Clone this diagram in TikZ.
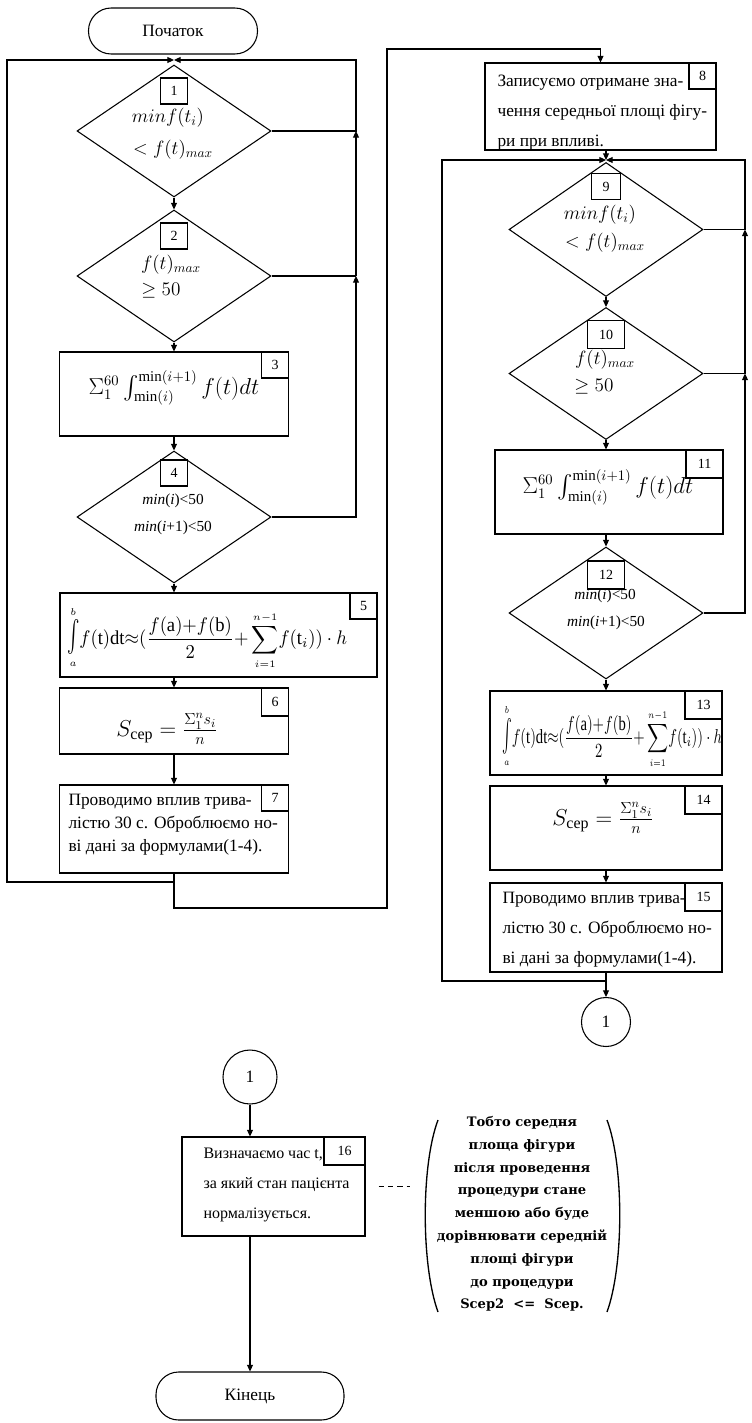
\documentclass[tikz,border=0pt]{standalone}
\usepackage{amsmath}
\usepackage{fontspec}
\setmainfont{Liberation Serif}
\newfontfamily\notefont{DejaVu Serif}
\usepackage{graphicx}
\usetikzlibrary{shapes.geometric,arrows.meta}

\newcommand{\trapform}{$\displaystyle\mathop{\scalebox{1}[1.6]{$\textstyle\int$}}\limits_{\scriptscriptstyle a}^{\scriptscriptstyle b}\!f(\mathrm{t})\mathrm{dt}{\approx}(\frac{f(\mathrm{a}){+}f(\mathrm{b})}{2}{+}\sum_{\scriptscriptstyle i=1}^{\scriptscriptstyle n-1}\!f(\mathrm{t}_i))\cdot h$}
\newcommand{\areaform}{$S_{\mbox{\normalfont\fontsize{12}{13}\selectfont сер}}=\frac{\Sigma_1^n s_i}{n}$}
\newcommand{\intform}{$\Sigma_1^{60}\int_{\min(i)}^{\min(i+1)}f(t)dt$}

\begin{document}
\begin{tikzpicture}[x=0.75pt,y=-0.75pt,line width=0.8pt,
    >={Triangle[length=5pt,width=4.5pt]},
    box/.style={draw,rectangle,inner sep=0pt,minimum width=171.75pt,minimum height=63pt},
    decide/.style={draw,diamond,inner sep=0pt,minimum width=145.5pt,minimum height=99pt},
    numbox/.style={draw,rectangle,inner sep=0pt,minimum width=20.25pt,minimum height=19.5pt,font=\fontsize{10.5}{12}\selectfont},
    numwide/.style={numbox,minimum width=27.75pt,minimum height=21pt},
    term/.style={draw,rectangle,rounded corners=17pt,inner sep=0pt,minimum height=34.5pt,font=\fontsize{13}{15}\selectfont},
    conn/.style={draw,circle,inner sep=0pt,font=\fontsize{13}{15}\selectfont},
    txt/.style={align=left,inner sep=0pt,anchor=west},
    cond/.style={inner sep=0pt,font=\fontsize{14}{16}\selectfont},
    condsmall/.style={inner sep=0pt,font=\fontsize{11.5}{13}\selectfont},
    formula/.style={inner sep=0pt,font=\fontsize{16}{18}\selectfont}]
\useasboundingbox (0,0) rectangle (752,1423);

% Colonna sinistra
\node[term,minimum width=126.75pt] (start) at (173,31) {Початок};
\coordinate (j1) at (174,60);
\node[decide] (d1) at (174,131) {};
\node[decide] (d2) at (174,276) {};
\node[box] (b3) at (174,394) {};
\node[decide] (d4) at (174,517) {};
\node[box,minimum width=237.75pt] (b5) at (218.5,635) {};
\node[box,minimum height=49.5pt] (b6) at (174,721) {};
\node[box,minimum height=66pt] (b7) at (174,829) {};

\node[numbox,anchor=north] (n1) at ([yshift=-9.75pt]d1.north) {1};
\node[numbox,anchor=north] (n2) at ([yshift=-9.75pt]d2.north) {2};
\node[numbox,anchor=north east] (n3) at (b3.north east) {3};
\node[numbox,anchor=north] (n4) at ([yshift=-6.75pt]d4.north) {4};
\node[numbox,anchor=north east] (n5) at (b5.north east) {5};
\node[numbox,anchor=north east,minimum height=21pt] (n6) at (b6.north east) {6};
\node[numbox,anchor=north east] (n7) at (b7.north east) {7};

\node[cond] (c1a) at (168,118) {$min f(t_i)$};
\node[cond] (c1b) at (173,150) {$< f(t)_{max}$};
\node[cond] (c2a) at (171,265) {$f(t)_{max}$};
\node[cond] (c2b) at (161,291) {$\geq 50$};
\node[condsmall] (c4a) at (173,501) {\textit{min}(\textit{i})<50};
\node[condsmall] (c4b) at (173,528) {\textit{min}(\textit{i}+1)<50};

\node[formula] (f3) at (174,388) {\intform};
\node[inner sep=0pt] (f5) at (207,638) {\resizebox*{210pt}{47pt}{\trapform}};
\node[formula,font=\fontsize{18}{20}\selectfont] (f6) at (167,729) {\areaform};
\node[txt,font=\fontsize{13}{17.3}\selectfont] (t7) at (68,825)
  {Проводимо вплив трива-\\лістю 30 с. Оброблюємо но-\\ві дані за формулами(1-4).};

% Frecce
\draw[->] (d1) -- (d2);
\draw[->] (d2) -- (b3);
\draw[->] (b3) -- (d4);
\draw[->] (d4.south) -- (d4.south |- b5.north);
\draw[->] (b5.south -| b6) -- (b6);
\draw[->] (b6) -- (b7);

% Cicli
\coordinate (rr1) at (356,517);
\coordinate (rr2) at (356,276);
\coordinate (rr3) at (356,131);
\coordinate (rr4) at (356,60);
\draw[->] (d4.east) -- (rr1) -- (rr2);
\draw (d2.east) -- (rr2);
\draw[->] (rr2) -- (rr3);
\draw[->] (d1.east) -- (rr3) -- (rr4) -- (j1);

\coordinate (m1) at (174,882);
\coordinate (l1) at (7,882);
\coordinate (l2) at (7,60);
\draw[->] (m1) -- (l1) -- (l2) -- (j1);

% Colonna destra
\coordinate (m3) at (387,908);
\coordinate (m4) at (387,49);
\node[box,minimum width=173.25pt,minimum height=65.25pt] (b8) at (600.5,106.5) {};
\draw[->] (b7) |- (m3) -- (m4) -| (b8);

\coordinate (j2) at (606,160);
\node[decide,minimum height=100.5pt] (d9) at (606,229.5) {};
\node[decide] (d10) at (606,373.5) {};
\node[box,minimum width=171pt] (b11) at (609,492) {};
\node[decide] (d12) at (606,613) {};
\node[box,minimum width=174pt] (b13) at (606,733) {};
\node[box,minimum width=174pt] (b14) at (606,828) {};
\node[box,minimum width=174pt,minimum height=66.75pt] (b15) at (606,927.5) {};
\node[conn,minimum size=36.75pt] (k1) at (606,1022) {1};

\node[numbox,anchor=north east] (n8) at (b8.north east) {8};
\node[numbox,anchor=north,minimum width=21.75pt] (n9) at ([yshift=-8.25pt]d9.north) {9};
\node[numwide,anchor=north] (n10) at ([yshift=-9.75pt]d10.north) {10};
\node[numwide,anchor=north east] (n11) at (b11.north east) {11};
\node[numwide,anchor=north] (n12) at ([yshift=-10.5pt]d12.north) {12};
\node[numwide,anchor=north east] (n13) at (b13.north east) {13};
\node[numwide,anchor=north east] (n14) at (b14.north east) {14};
\node[numwide,anchor=north east] (n15) at (b15.north east) {15};

\node[txt,font=\fontsize{13}{22.5}\selectfont] (t8) at (497,113)
  {Записуємо отримане зна-\\чення середньої площі фігу-\\ри при впливі.};
\node[cond] (c9a) at (600,215) {$min f(t_i)$};
\node[cond] (c9b) at (605,243) {$< f(t)_{max}$};
\node[cond] (c10a) at (605,360) {$f(t)_{max}$};
\node[cond] (c10b) at (594,387) {$\geq 50$};
\node[formula] (f11) at (608,487) {\intform};
\node[condsmall] (c12a) at (605,596) {\textit{min}(\textit{i})<50};
\node[condsmall] (c12b) at (606,623) {\textit{min}(\textit{i}+1)<50};
\node[inner sep=0pt] (f13) at (612,737) {\resizebox*{165pt}{48pt}{\trapform}};
\node[formula,font=\fontsize{18}{20}\selectfont] (f14) at (603,818) {\areaform};
\node[txt,font=\fontsize{13}{22.5}\selectfont] (t15) at (502,930)
  {Проводимо вплив трива-\\лістю 30 с. Оброблюємо но-\\ві дані за формулами(1-4).};

\draw[->] (b8.south -| j2) -- (j2);
\draw[->] (d9) -- (d10);
\draw[->] (d10.south) -- (d10.south |- b11.north);
\draw[->] (b11.south -| d12) -- (d12);
\draw[->] (d12) -- (b13);
\draw[->] (b13) -- (b14);
\draw[->] (b14) -- (b15);
\draw[->] (b15) -- (k1);

\coordinate (q1) at (745,613);
\coordinate (q2) at (745,373.5);
\coordinate (q3) at (745,229.5);
\coordinate (q4) at (745,160);
\draw[->] (d12.east) -- (q1) -- (q2);
\draw (d10.east) -- (q2);
\draw[->] (q2) -- (q3);
\draw[->] (d9.east) -- (q3) -- (q4) -- (j2);

\coordinate (m5) at (606,981);
\coordinate (l3) at (442,981);
\coordinate (l4) at (442,160);
\draw[->] (m5) -- (l3) -- (l4) -- (j2);

% Parte finale
\node[conn,minimum size=40.5pt] (k2) at (250,1077) {1};
\node[box,minimum width=137.25pt,minimum height=74.25pt] (b16) at (273.5,1186.5) {};
\node[numwide,anchor=north east,minimum width=30.75pt] (n16) at (b16.north east) {16};
\node[txt,font=\fontsize{12}{22.5}\selectfont] (t16) at (203,1185)
  {Визначаємо час t,\\за який стан пацієнта\\нормалізується.};
\node[term,minimum width=141pt,minimum height=36pt] (end) at (250,1396) {Кінець};
\draw[->] (k2) -- (k2 |- b16.north);
\draw[->] (b16.south -| k2) -- (end);

% Nota
\node[align=center,inner sep=0pt,font=\notefont\bfseries\fontsize{9.8}{17.1}\selectfont] (note) at (522,1214)
  {Тобто середня\\площа фігури\\після проведення\\процедури стане\\меншою або буде\\дорівнювати середній\\площі фігури\\до процедури\\Sсер2 \ <= \ Sсер.};
\coordinate (lp) at (425,1186.5);
\draw[dash pattern=on 4pt off 3pt,shorten <=9.75pt,shorten >=11.25pt] (b16.east) -- (lp);
\draw[line width=1pt] (438,1120) .. controls (421,1165) and (421,1265) .. (438,1312);
\draw[line width=1pt] (607,1120) .. controls (624,1165) and (624,1265) .. (607,1312);
\end{tikzpicture}
\end{document}
